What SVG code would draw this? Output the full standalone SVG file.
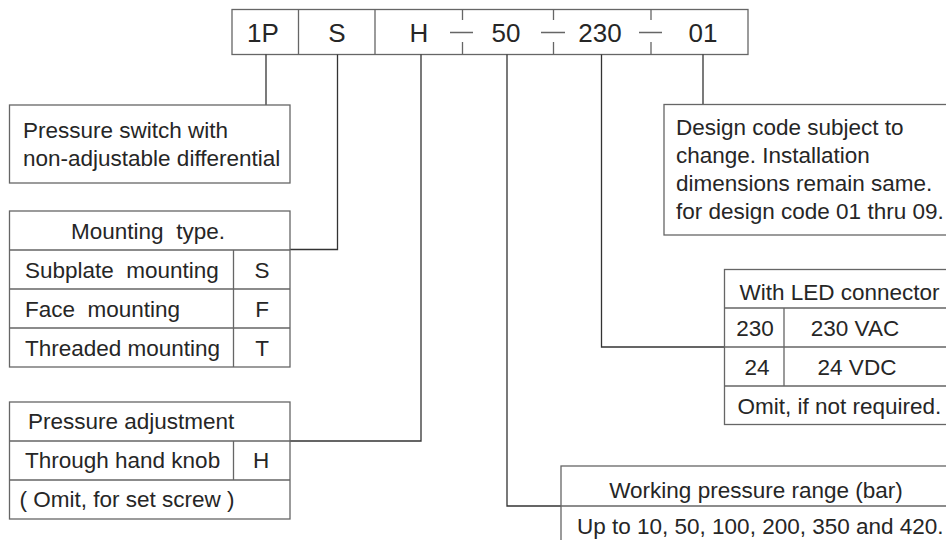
<svg xmlns="http://www.w3.org/2000/svg" width="946" height="540" viewBox="0 0 946 540">
<style>
text{font-family:"Liberation Sans",Arial,sans-serif;fill:#262626;white-space:pre}
.big{font-size:26px;text-anchor:middle}
.t{font-size:22.5px}
.c{text-anchor:middle}
.box{fill:#fff;stroke:#666;stroke-width:1.3}
.ln{stroke:#666;stroke-width:1.3;fill:none}
.con{stroke:#333;stroke-width:1.3;fill:none}
</style>
<rect width="946" height="540" fill="#fff"/>
<g id="code">
<rect class="box" x="232" y="9.5" width="516" height="45"/>
<path class="ln" d="M298.5 9.5V54.5M375 9.5V54.5M462.5 9.5V20M462.5 42V54.5M553.5 9.5V20M553.5 42V54.5M651 9.5V20M651 42V54.5M450 32.5H473M541 32.5H565M639 32.5H662"/>
<text class="big" x="263" y="41.5">1P</text>
<text class="big" x="337" y="41.5">S</text>
<text class="big" x="419" y="41.5">H</text>
<text class="big" x="506" y="41.5">50</text>
<text class="big" x="600" y="41.5">230</text>
<text class="big" x="703" y="41.5">01</text>
</g>
<g id="connectors">
<path class="con" d="M266 54.5V105"/>
<path class="con" d="M337.5 54.5V249.5H290"/>
<path class="con" d="M421 54.5V441H290"/>
<path class="con" d="M507 54.5V506H561"/>
<path class="con" d="M601.5 54.5V347H724.5"/>
<path class="con" d="M703 54.5V104.5"/>
</g>
<g id="switch">
<rect class="box" x="9.5" y="105" width="280.5" height="78"/>
<text class="t" x="23" y="138">Pressure switch with</text>
<text class="t" x="23" y="165.5">non-adjustable differential</text>
</g>
<g id="mounting">
<rect class="box" x="9.5" y="211" width="280.5" height="156"/>
<path class="ln" d="M9.5 250H290M9.5 289H290M9.5 328H290M233.5 250V367"/>
<text class="t c" x="148" y="238.5">Mounting  type.</text>
<text class="t" x="25" y="277.5">Subplate  mounting</text>
<text class="t c" x="262" y="277.5">S</text>
<text class="t" x="25" y="316.5">Face  mounting</text>
<text class="t c" x="262" y="316.5">F</text>
<text class="t" x="25" y="355.5">Threaded mounting</text>
<text class="t c" x="262" y="355.5">T</text>
</g>
<g id="adjustment">
<rect class="box" x="9.5" y="402" width="280.5" height="117"/>
<path class="ln" d="M9.5 441H290M9.5 480H290M233.5 441V480"/>
<text class="t" x="28" y="429">Pressure adjustment</text>
<text class="t" x="25" y="468">Through hand knob</text>
<text class="t c" x="261" y="468">H</text>
<text class="t" x="19.5" y="507">( Omit, for set screw )</text>
</g>
<g id="design">
<rect class="box" x="664" y="104.5" width="300" height="130.5"/>
<text class="t" x="676" y="135">Design code subject to</text>
<text class="t" x="676" y="163">change. Installation</text>
<text class="t" x="676" y="191">dimensions remain same.</text>
<text class="t" x="676" y="219">for design code 01 thru 09.</text>
</g>
<g id="led">
<rect class="box" x="724.5" y="269.5" width="240" height="155"/>
<path class="ln" d="M724.5 308H964M724.5 347H964M724.5 386H964M784 308V386"/>
<text class="t" x="739.5" y="300">With LED connector</text>
<text class="t c" x="755" y="336">230</text>
<text class="t c" x="855" y="336">230 VAC</text>
<text class="t c" x="757" y="375">24</text>
<text class="t c" x="857" y="375">24 VDC</text>
<text class="t" x="737.5" y="414">Omit, if not required.</text>
</g>
<g id="pressure">
<rect class="box" x="561" y="466" width="400" height="90"/>
<path class="ln" d="M561 506H961"/>
<text class="t c" x="756" y="498">Working pressure range (bar)</text>
<text class="t" x="577" y="534">Up to 10, 50, 100, 200, 350 and 420.</text>
</g>
</svg>
